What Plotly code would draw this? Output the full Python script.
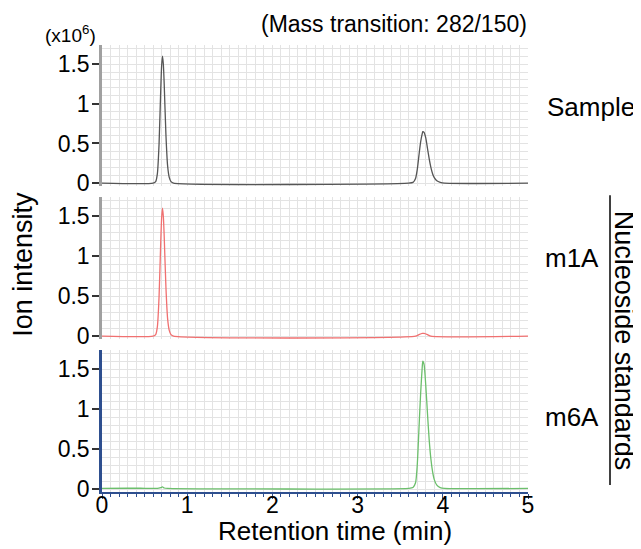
import plotly.graph_objects as go

# ---- data ----
sample_t = [0.00, 0.60, 0.63, 0.65, 0.67, 0.69, 0.70, 0.71, 0.72, 0.73, 0.75, 0.77, 0.79, 0.81, 0.84,
            3.60, 3.65, 3.68, 3.70, 3.72, 3.74, 3.76, 3.765, 3.78, 3.80, 3.82, 3.84, 3.86, 3.88, 3.90,
            3.93, 3.97, 4.02, 5.00]
sample_y = [0.0, 0.0, 0.02, 0.12, 0.50, 1.20, 1.48, 1.60, 1.50, 1.25, 0.62, 0.22, 0.07, 0.02, 0.0,
            0.0, 0.01, 0.06, 0.17, 0.35, 0.52, 0.63, 0.65, 0.64, 0.57, 0.44, 0.31, 0.20, 0.12, 0.07,
            0.03, 0.01, 0.0, 0.0]

m1a_t = [0.00, 0.60, 0.63, 0.65, 0.67, 0.69, 0.70, 0.71, 0.72, 0.73, 0.75, 0.77, 0.79, 0.81, 0.84,
         3.68, 3.72, 3.76, 3.78, 3.82, 3.86, 5.00]
m1a_y = [0.0, 0.0, 0.02, 0.12, 0.50, 1.20, 1.48, 1.60, 1.50, 1.25, 0.62, 0.22, 0.07, 0.02, 0.0,
         0.0, 0.02, 0.035, 0.035, 0.02, 0.0, 0.0]

m6a_t = [0.00, 0.30, 0.45, 0.65, 0.69, 0.71, 0.73, 0.77, 3.60, 3.65, 3.68, 3.70, 3.72, 3.74, 3.76,
         3.765, 3.78, 3.80, 3.82, 3.84, 3.86, 3.88, 3.90, 3.93, 3.97, 4.02, 5.00]
m6a_y = [0.01, 0.012, 0.012, 0.01, 0.02, 0.028, 0.015, 0.01, 0.01, 0.02, 0.08, 0.30, 0.75, 1.20, 1.55,
         1.60, 1.56, 1.30, 0.95, 0.62, 0.38, 0.22, 0.12, 0.05, 0.02, 0.01, 0.01]

y_tickvals = [0, 0.5, 1, 1.5]
y_ticktext = ["0", "0.5", "1", "1.5"]
x_tickvals = [0, 1, 2, 3, 4, 5]
panel_labels = ["Sample", "m1A", "m6A"]
line_colors = ["#555555", "#f07070", "#6cbf6c"]

FONT = "Liberation Sans, Arial, sans-serif"
GRID = "#e3e3e3"

fig = go.Figure()
series = [(sample_t, sample_y), (m1a_t, m1a_y), (m6a_t, m6a_y)]
for i, (t, y) in enumerate(series):
    suffix = "" if i == 0 else str(i + 1)
    fig.add_trace(go.Scatter(x=t, y=y, mode="lines",
                             line=dict(color=line_colors[i], width=1.3, shape="spline", smoothing=0.6),
                             xaxis="x" + suffix, yaxis="y" + suffix, showlegend=False, hoverinfo="skip"))

domains = [[0.6846, 1.0], [0.3423, 0.66], [0.0, 0.3177]]
y_line_colors = ["#a0a0a0", "#a0a0a0", "#2e4f8f"]
layout = dict(
    width=633, height=541,
    margin=dict(l=94, r=113, t=37, b=57),
    paper_bgcolor="white", plot_bgcolor="white",
    font=dict(family=FONT, color="black"),
)
for i in range(3):
    suffix = "" if i == 0 else str(i + 1)
    last = (i == 2)
    layout["xaxis" + suffix] = dict(
        domain=[0, 1], range=[0, 5], anchor="y" + suffix,
        tickmode="array", tickvals=x_tickvals, showticklabels=last,
        ticks="outside" if last else "", ticklen=5, tickcolor="#2e4f8f",
        ticklabelstandoff=-14,
        tickfont=dict(size=23, family=FONT, color="black"),
        showgrid=True, gridcolor=GRID, gridwidth=1,
        minor=dict(dtick=0.1, tick0=0, showgrid=True, gridcolor=GRID, gridwidth=1,
                   ticks="outside" if last else "", ticklen=3, tickcolor="#2e4f8f"),
        showline=last, linecolor="#2e4f8f", linewidth=2,
        zeroline=False, fixedrange=True,
    )
    layout["yaxis" + suffix] = dict(
        domain=domains[i], range=[-0.035, 1.74], anchor="x" + suffix,
        tickmode="array", tickvals=y_tickvals, ticktext=y_ticktext,
        ticks="outside", ticklen=7, tickwidth=1.5, tickcolor="#333333",
        ticklabelstandoff=-2,
        tickfont=dict(size=23, family=FONT, color="black"),
        showgrid=True, gridcolor=GRID, gridwidth=1,
        minor=dict(dtick=0.1, tick0=0, showgrid=True, gridcolor=GRID, gridwidth=1),
        showline=True, linecolor=y_line_colors[i], linewidth=2.5,
        zeroline=False, fixedrange=True,
    )
fig.update_layout(**layout)

ann = []
def add(text, x, y, size, **kw):
    ann.append(dict(text=text, x=x, y=y, xref="paper", yref="paper", showarrow=False,
                    xanchor="center", yanchor="middle",
                    font=dict(size=size, family=FONT, color="black"), **kw))

add("(Mass transition: 282/150)", 0.685, 1.047, 23)
add("(x10<sup>6</sup>)", -0.075, 1.024, 19)
add(panel_labels[0], 1.148, 0.861, 26)
add(panel_labels[1], 1.103, 0.5235, 26)
add(panel_labels[2], 1.103, 0.168, 26)
add("Nucleoside standards", 1.226, 0.338, 27, textangle=90)
add("Ion intensity", -0.185, 0.509, 27, textangle=-90)
add("Retention time (min)", 0.547, -0.088, 26)
fig.update_layout(annotations=ann)

fig.add_shape(type="line", xref="paper", yref="paper", x0=1.1925, x1=1.1925, y0=0.0157, y1=0.664,
              line=dict(color="black", width=1.5))

fig.write_html("out.html")
